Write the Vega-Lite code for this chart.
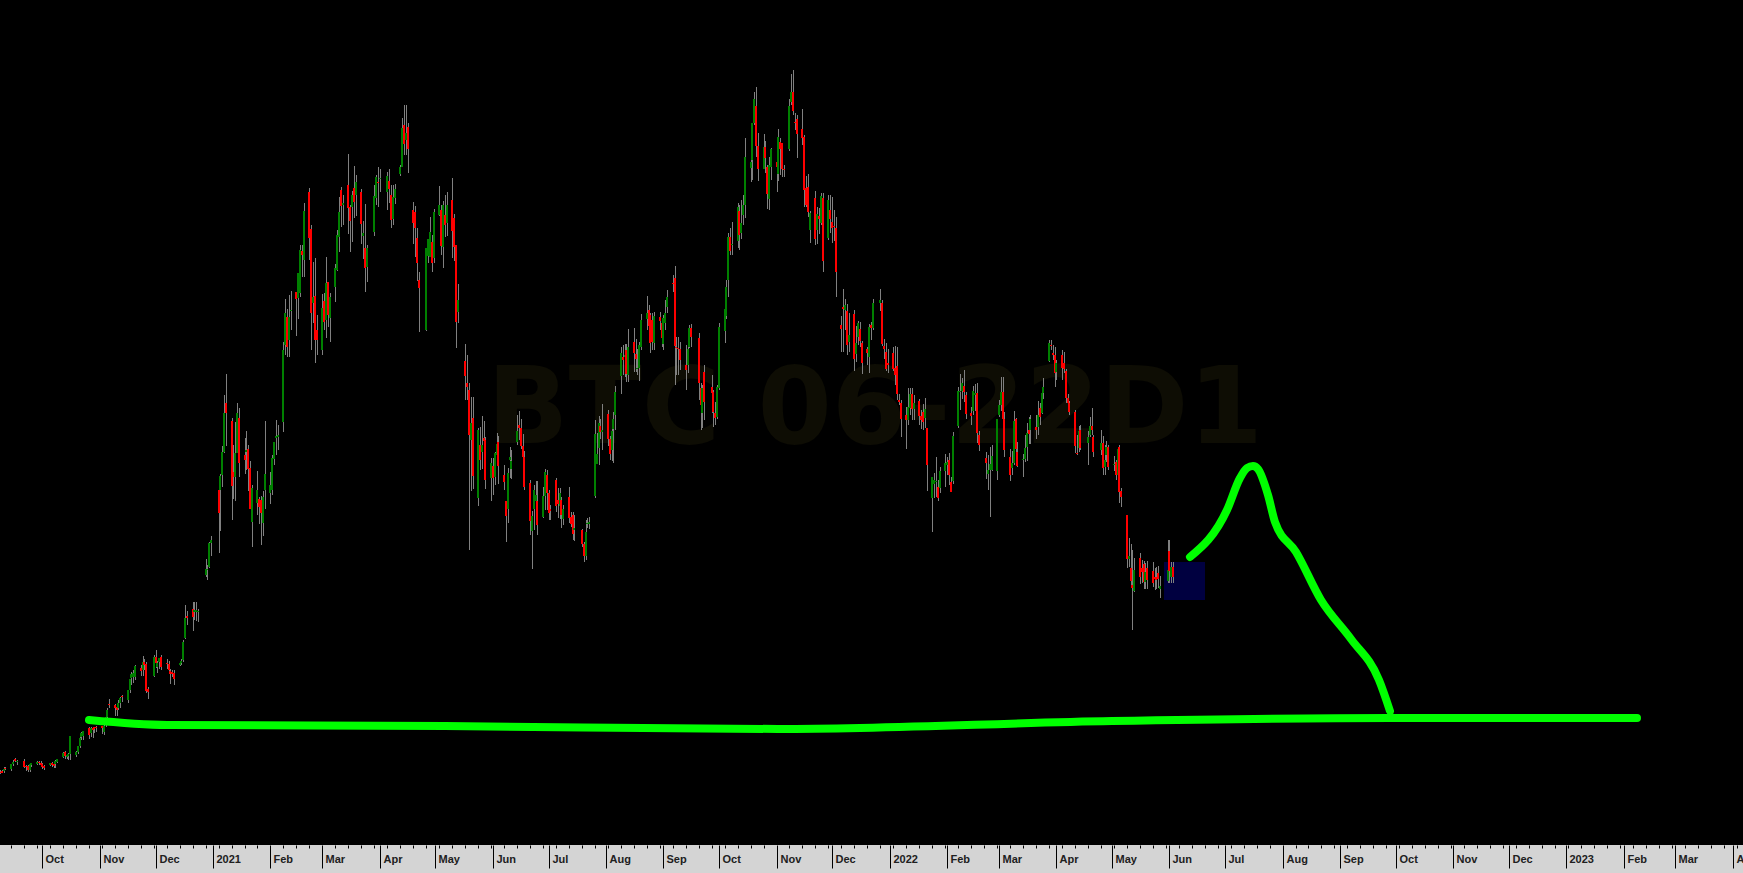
{"$schema":"https://vega.github.io/schema/vega-lite/v6.json","width":1743,"height":845,"autosize":"none","padding":{"left":0,"right":0,"top":0,"bottom":28},"background":"#d4d4d4","view":{"fill":"#000000","stroke":null},
"data":{"values":[
{"d":"2020-09-08","o":73,"c":72,"h":75,"l":71},{"d":"2020-09-09","o":74,"c":72,"h":75,"l":72},{"d":"2020-09-10","o":74,"c":76,"h":78,"l":72},{"d":"2020-09-11","o":77,"c":76,"h":78,"l":75},
{"d":"2020-09-14","o":76,"c":81,"h":81,"l":74},{"d":"2020-09-15","o":81,"c":83,"h":85,"l":79},{"d":"2020-09-16","o":86,"c":84,"h":87,"l":83},{"d":"2020-09-17","o":83,"c":84,"h":85,"l":80},
{"d":"2020-09-21","o":84,"c":78,"h":86,"l":77},{"d":"2020-09-22","o":79,"c":78,"h":80,"l":74},{"d":"2020-09-23","o":79,"c":75,"h":80,"l":73},{"d":"2020-09-24","o":75,"c":81,"h":82,"l":73},{"d":"2020-09-25","o":80,"c":82,"h":82,"l":78},
{"d":"2020-09-28","o":81,"c":83,"h":84,"l":80},{"d":"2020-09-29","o":83,"c":82,"h":84,"l":80},{"d":"2020-09-30","o":82,"c":80,"h":84,"l":78},{"d":"2020-10-01","o":81,"c":78,"h":82,"l":76},{"d":"2020-10-02","o":79,"c":77,"h":80,"l":75},
{"d":"2020-10-05","o":80,"c":82,"h":82,"l":79},{"d":"2020-10-06","o":82,"c":80,"h":83,"l":78},{"d":"2020-10-07","o":81,"c":79,"h":82,"l":77},{"d":"2020-10-08","o":81,"c":84,"h":85,"l":77},{"d":"2020-10-09","o":83,"c":86,"h":86,"l":82},
{"d":"2020-10-12","o":88,"c":92,"h":93,"l":87},{"d":"2020-10-13","o":93,"c":89,"h":94,"l":86},{"d":"2020-10-14","o":88,"c":90,"h":91,"l":86},{"d":"2020-10-15","o":89,"c":91,"h":92,"l":85},{"d":"2020-10-16","o":91,"c":109,"h":109,"l":85},
{"d":"2020-10-19","o":90,"c":93,"h":94,"l":88},{"d":"2020-10-20","o":93,"c":99,"h":99,"l":91},{"d":"2020-10-21","o":99,"c":107,"h":112,"l":97},{"d":"2020-10-22","o":108,"c":112,"h":113,"l":105},{"d":"2020-10-23","o":109,"c":114,"h":114,"l":105},
{"d":"2020-10-26","o":117,"c":110,"h":118,"l":106},{"d":"2020-10-27","o":112,"c":117,"h":118,"l":108},{"d":"2020-10-28","o":117,"c":115,"h":118,"l":107},{"d":"2020-10-29","o":118,"c":116,"h":118,"l":112},{"d":"2020-10-30","o":118,"c":117,"h":119,"l":113},
{"d":"2020-11-02","o":119,"c":117,"h":119,"l":111},{"d":"2020-11-03","o":113,"c":119,"h":120,"l":110},{"d":"2020-11-04","o":122,"c":128,"h":128,"l":118},{"d":"2020-11-05","o":128,"c":135,"h":137,"l":127},{"d":"2020-11-06","o":141,"c":140,"h":146,"l":137},
{"d":"2020-11-09","o":140,"c":137,"h":141,"l":129},{"d":"2020-11-10","o":138,"c":135,"h":139,"l":129},{"d":"2020-11-11","o":137,"c":142,"h":145,"l":135},{"d":"2020-11-12","o":142,"c":147,"h":148,"l":137},{"d":"2020-11-13","o":149,"c":148,"h":150,"l":143},
{"d":"2020-11-16","o":145,"c":155,"h":155,"l":142},{"d":"2020-11-17","o":155,"c":166,"h":166,"l":152},{"d":"2020-11-18","o":167,"c":171,"h":173,"l":160},{"d":"2020-11-19","o":168,"c":172,"h":175,"l":162},{"d":"2020-11-20","o":168,"c":179,"h":180,"l":165},
{"d":"2020-11-23","o":177,"c":174,"h":180,"l":169},{"d":"2020-11-24","o":175,"c":183,"h":189,"l":169},{"d":"2020-11-25","o":183,"c":180,"h":186,"l":175},{"d":"2020-11-26","o":181,"c":154,"h":183,"l":152},{"d":"2020-11-27","o":156,"c":153,"h":158,"l":146},
{"d":"2020-11-30","o":169,"c":188,"h":190,"l":168},{"d":"2020-12-01","o":188,"c":182,"h":195,"l":177},{"d":"2020-12-02","o":178,"c":182,"h":184,"l":172},{"d":"2020-12-03","o":183,"c":187,"h":187,"l":176},{"d":"2020-12-04","o":188,"c":178,"h":190,"l":175},
{"d":"2020-12-07","o":182,"c":181,"h":186,"l":176},{"d":"2020-12-08","o":181,"c":175,"h":184,"l":172},{"d":"2020-12-09","o":174,"c":171,"h":176,"l":161},{"d":"2020-12-10","o":173,"c":171,"h":175,"l":168},{"d":"2020-12-11","o":172,"c":166,"h":175,"l":160},
{"d":"2020-12-14","o":180,"c":182,"h":182,"l":179},{"d":"2020-12-15","o":182,"c":184,"h":186,"l":180},{"d":"2020-12-16","o":185,"c":203,"h":205,"l":183},{"d":"2020-12-17","o":207,"c":227,"h":240,"l":206},{"d":"2020-12-18","o":229,"c":227,"h":234,"l":220},
{"d":"2020-12-21","o":236,"c":228,"h":243,"l":214},{"d":"2020-12-22","o":233,"c":235,"h":243,"l":225},{"d":"2020-12-23","o":233,"c":235,"h":243,"l":224},{"d":"2020-12-24","o":233,"c":234,"h":236,"l":223},
{"d":"2020-12-28","o":270,"c":276,"h":286,"l":268},{"d":"2020-12-29","o":275,"c":276,"h":280,"l":265},{"d":"2020-12-30","o":278,"c":302,"h":303,"l":277},{"d":"2020-12-31","o":302,"c":305,"h":309,"l":289},
{"d":"2021-01-04","o":355,"c":332,"h":363,"l":292},{"d":"2021-01-05","o":355,"c":369,"h":371,"l":314},{"d":"2021-01-06","o":370,"c":393,"h":399,"l":358},{"d":"2021-01-07","o":393,"c":432,"h":450,"l":392},{"d":"2021-01-08","o":442,"c":432,"h":471,"l":399},
{"d":"2021-01-11","o":424,"c":359,"h":427,"l":325},{"d":"2021-01-12","o":373,"c":368,"h":400,"l":346},{"d":"2021-01-13","o":368,"c":392,"h":423,"l":344},{"d":"2021-01-14","o":392,"c":432,"h":442,"l":398},{"d":"2021-01-15","o":427,"c":382,"h":437,"l":368},
{"d":"2021-01-18","o":390,"c":385,"h":407,"l":371},{"d":"2021-01-19","o":393,"c":395,"h":414,"l":375},{"d":"2021-01-20","o":396,"c":376,"h":400,"l":354},{"d":"2021-01-21","o":377,"c":336,"h":384,"l":354},{"d":"2021-01-22","o":323,"c":357,"h":360,"l":298},
{"d":"2021-01-25","o":342,"c":355,"h":374,"l":330},{"d":"2021-01-26","o":346,"c":338,"h":348,"l":321},{"d":"2021-01-27","o":345,"c":332,"h":349,"l":300},{"d":"2021-01-28","o":322,"c":348,"h":354,"l":309},{"d":"2021-01-29","o":355,"c":371,"h":424,"l":336},
{"d":"2021-02-01","o":352,"c":360,"h":373,"l":341},{"d":"2021-02-02","o":355,"c":387,"h":390,"l":350},{"d":"2021-02-03","o":386,"c":403,"h":403,"l":380},{"d":"2021-02-04","o":407,"c":409,"h":425,"l":390},{"d":"2021-02-05","o":408,"c":410,"h":420,"l":395},
{"d":"2021-02-08","o":423,"c":495,"h":503,"l":413},{"d":"2021-02-09","o":500,"c":532,"h":546,"l":490},{"d":"2021-02-10","o":528,"c":498,"h":536,"l":488},{"d":"2021-02-11","o":505,"c":528,"h":550,"l":488},{"d":"2021-02-12","o":534,"c":535,"h":554,"l":515},
{"d":"2021-02-15","o":553,"c":546,"h":553,"l":509},{"d":"2021-02-16","o":547,"c":572,"h":572,"l":526},{"d":"2021-02-17","o":552,"c":595,"h":600,"l":548},{"d":"2021-02-18","o":594,"c":590,"h":600,"l":568},{"d":"2021-02-19","o":585,"c":634,"h":642,"l":568},
{"d":"2021-02-22","o":653,"c":607,"h":657,"l":585},{"d":"2021-02-23","o":616,"c":532,"h":620,"l":495},{"d":"2021-02-24","o":542,"c":548,"h":583,"l":522},{"d":"2021-02-25","o":549,"c":505,"h":587,"l":482},{"d":"2021-02-26","o":515,"c":505,"h":530,"l":490},
{"d":"2021-03-01","o":495,"c":537,"h":551,"l":490},{"d":"2021-03-02","o":544,"c":523,"h":552,"l":515},{"d":"2021-03-03","o":525,"c":562,"h":588,"l":507},{"d":"2021-03-04","o":563,"c":530,"h":563,"l":518},{"d":"2021-03-05","o":527,"c":548,"h":552,"l":503},
{"d":"2021-03-08","o":558,"c":577,"h":581,"l":543},{"d":"2021-03-09","o":575,"c":610,"h":615,"l":574},{"d":"2021-03-10","o":608,"c":633,"h":648,"l":593},{"d":"2021-03-11","o":655,"c":639,"h":658,"l":618},{"d":"2021-03-12","o":640,"c":642,"h":650,"l":620},
{"d":"2021-03-15","o":660,"c":637,"h":691,"l":611},{"d":"2021-03-16","o":638,"c":624,"h":640,"l":593},{"d":"2021-03-17","o":638,"c":650,"h":654,"l":603},{"d":"2021-03-18","o":657,"c":643,"h":679,"l":627},{"d":"2021-03-19","o":650,"c":663,"h":670,"l":629},
{"d":"2021-03-22","o":653,"c":621,"h":656,"l":601},{"d":"2021-03-23","o":609,"c":612,"h":624,"l":586},{"d":"2021-03-24","o":597,"c":577,"h":641,"l":553},{"d":"2021-03-25","o":578,"c":597,"h":600,"l":563},
{"d":"2021-03-29","o":613,"c":649,"h":660,"l":609},{"d":"2021-03-30","o":647,"c":668,"h":670,"l":640},{"d":"2021-03-31","o":663,"c":662,"h":678,"l":638},{"d":"2021-04-01","o":666,"c":667,"h":676,"l":653},
{"d":"2021-04-05","o":653,"c":669,"h":673,"l":635},{"d":"2021-04-06","o":664,"c":656,"h":676,"l":642},{"d":"2021-04-07","o":650,"c":625,"h":660,"l":617},{"d":"2021-04-08","o":626,"c":648,"h":660,"l":620},{"d":"2021-04-09","o":647,"c":656,"h":661,"l":641},
{"d":"2021-04-12","o":671,"c":678,"h":680,"l":669},{"d":"2021-04-13","o":678,"c":717,"h":727,"l":678},{"d":"2021-04-14","o":720,"c":701,"h":740,"l":690},{"d":"2021-04-15","o":705,"c":712,"h":740,"l":690},{"d":"2021-04-16","o":718,"c":696,"h":722,"l":672},
{"d":"2021-04-19","o":635,"c":622,"h":643,"l":601},{"d":"2021-04-20","o":633,"c":617,"h":639,"l":588},{"d":"2021-04-21","o":607,"c":582,"h":617,"l":564},{"d":"2021-04-22","o":565,"c":557,"h":573,"l":513},
{"d":"2021-04-26","o":515,"c":597,"h":597,"l":514},{"d":"2021-04-27","o":589,"c":606,"h":606,"l":582},{"d":"2021-04-28","o":588,"c":613,"h":628,"l":588},{"d":"2021-04-29","o":603,"c":582,"h":610,"l":573},{"d":"2021-04-30","o":587,"c":633,"h":636,"l":582},
{"d":"2021-05-03","o":630,"c":640,"h":659,"l":629},{"d":"2021-05-04","o":635,"c":599,"h":640,"l":590},{"d":"2021-05-05","o":598,"c":640,"h":644,"l":577},{"d":"2021-05-06","o":630,"c":620,"h":650,"l":608},{"d":"2021-05-07","o":622,"c":640,"h":653,"l":609},
{"d":"2021-05-10","o":645,"c":614,"h":667,"l":587},{"d":"2021-05-11","o":627,"c":598,"h":631,"l":584},{"d":"2021-05-12","o":600,"c":523,"h":600,"l":497},{"d":"2021-05-13","o":533,"c":545,"h":561,"l":522},
{"d":"2021-05-17","o":484,"c":469,"h":501,"l":445},{"d":"2021-05-18","o":462,"c":458,"h":490,"l":445},{"d":"2021-05-19","o":455,"c":410,"h":462,"l":295},{"d":"2021-05-20","o":405,"c":422,"h":448,"l":354},{"d":"2021-05-21","o":427,"c":369,"h":448,"l":356},
{"d":"2021-05-24","o":347,"c":415,"h":417,"l":339},{"d":"2021-05-25","o":400,"c":385,"h":418,"l":375},{"d":"2021-05-26","o":393,"c":400,"h":429,"l":376},{"d":"2021-05-27","o":407,"c":404,"h":424,"l":398},{"d":"2021-05-28","o":405,"c":365,"h":408,"l":356},
{"d":"2021-05-31","o":367,"c":382,"h":387,"l":344},{"d":"2021-06-01","o":379,"c":367,"h":387,"l":350},{"d":"2021-06-02","o":368,"c":392,"h":393,"l":360},{"d":"2021-06-03","o":390,"c":401,"h":412,"l":383},{"d":"2021-06-04","o":403,"c":379,"h":409,"l":361},
{"d":"2021-06-07","o":370,"c":363,"h":380,"l":355},{"d":"2021-06-08","o":344,"c":329,"h":344,"l":303},{"d":"2021-06-09","o":336,"c":372,"h":377,"l":322},{"d":"2021-06-10","o":385,"c":388,"h":398,"l":367},{"d":"2021-06-11","o":376,"c":384,"h":395,"l":366},
{"d":"2021-06-14","o":403,"c":414,"h":430,"l":400},{"d":"2021-06-15","o":420,"c":417,"h":434,"l":405},{"d":"2021-06-16","o":417,"c":399,"h":426,"l":396},{"d":"2021-06-17","o":399,"c":388,"h":411,"l":385},{"d":"2021-06-18","o":388,"c":358,"h":394,"l":355},
{"d":"2021-06-21","o":362,"c":324,"h":365,"l":310},{"d":"2021-06-22","o":314,"c":329,"h":334,"l":276},{"d":"2021-06-23","o":336,"c":355,"h":360,"l":315},{"d":"2021-06-24","o":344,"c":350,"h":364,"l":320},{"d":"2021-06-25","o":344,"c":320,"h":364,"l":310},
{"d":"2021-06-28","o":328,"c":349,"h":358,"l":327},{"d":"2021-06-29","o":349,"c":373,"h":376,"l":335},{"d":"2021-06-30","o":370,"c":352,"h":375,"l":335},{"d":"2021-07-01","o":352,"c":332,"h":355,"l":325},{"d":"2021-07-02","o":336,"c":334,"h":340,"l":325},
{"d":"2021-07-05","o":365,"c":339,"h":367,"l":333},{"d":"2021-07-06","o":345,"c":341,"h":357,"l":327},{"d":"2021-07-07","o":339,"c":352,"h":357,"l":326},{"d":"2021-07-08","o":345,"c":330,"h":348,"l":317},{"d":"2021-07-09","o":326,"c":336,"h":340,"l":320},
{"d":"2021-07-12","o":348,"c":327,"h":358,"l":322},{"d":"2021-07-13","o":328,"c":321,"h":333,"l":318},{"d":"2021-07-14","o":330,"c":311,"h":333,"l":305},{"d":"2021-07-15","o":315,"c":317,"h":330,"l":304},
{"d":"2021-07-19","o":315,"c":301,"h":316,"l":298},{"d":"2021-07-20","o":301,"c":289,"h":303,"l":283},{"d":"2021-07-21","o":289,"c":313,"h":325,"l":285},{"d":"2021-07-22","o":321,"c":322,"h":327,"l":317},{"d":"2021-07-23","o":321,"c":323,"h":328,"l":316},
{"d":"2021-07-26","o":349,"c":411,"h":425,"l":347},{"d":"2021-07-27","o":381,"c":391,"h":412,"l":381},{"d":"2021-07-28","o":397,"c":422,"h":429,"l":380},{"d":"2021-07-29","o":419,"c":413,"h":426,"l":406},{"d":"2021-07-30","o":413,"c":415,"h":441,"l":395},
{"d":"2021-08-02","o":431,"c":406,"h":435,"l":399},{"d":"2021-08-03","o":406,"c":391,"h":409,"l":385},{"d":"2021-08-04","o":395,"c":414,"h":417,"l":384},{"d":"2021-08-05","o":416,"c":426,"h":433,"l":382},{"d":"2021-08-06","o":430,"c":453,"h":459,"l":415},
{"d":"2021-08-09","o":469,"c":492,"h":498,"l":451},{"d":"2021-08-10","o":488,"c":485,"h":500,"l":470},{"d":"2021-08-11","o":488,"c":490,"h":501,"l":468},{"d":"2021-08-12","o":495,"c":471,"h":501,"l":463},{"d":"2021-08-13","o":470,"c":498,"h":516,"l":463},
{"d":"2021-08-16","o":503,"c":492,"h":517,"l":473},{"d":"2021-08-17","o":491,"c":486,"h":506,"l":473},{"d":"2021-08-18","o":476,"c":477,"h":496,"l":470},{"d":"2021-08-19","o":477,"c":500,"h":503,"l":464},{"d":"2021-08-20","o":498,"c":525,"h":531,"l":495},
{"d":"2021-08-23","o":526,"c":532,"h":549,"l":515},{"d":"2021-08-24","o":535,"c":519,"h":540,"l":510},{"d":"2021-08-25","o":530,"c":502,"h":532,"l":492},{"d":"2021-08-26","o":525,"c":503,"h":532,"l":495},{"d":"2021-08-27","o":502,"c":529,"h":533,"l":495},
{"d":"2021-08-30","o":528,"c":524,"h":533,"l":515},{"d":"2021-08-31","o":522,"c":507,"h":525,"l":498},{"d":"2021-09-01","o":501,"c":527,"h":530,"l":495},{"d":"2021-09-02","o":522,"c":532,"h":545,"l":515},{"d":"2021-09-03","o":538,"c":548,"h":555,"l":532},
{"d":"2021-09-06","o":562,"c":561,"h":570,"l":553},{"d":"2021-09-07","o":567,"c":499,"h":579,"l":460},{"d":"2021-09-08","o":498,"c":497,"h":508,"l":470},{"d":"2021-09-09","o":497,"c":496,"h":508,"l":470},{"d":"2021-09-10","o":496,"c":485,"h":503,"l":475},
{"d":"2021-09-13","o":480,"c":475,"h":500,"l":455},{"d":"2021-09-14","o":480,"c":496,"h":500,"l":472},{"d":"2021-09-15","o":498,"c":517,"h":520,"l":497},{"d":"2021-09-16","o":517,"c":508,"h":521,"l":498},
{"d":"2021-09-20","o":507,"c":462,"h":512,"l":445},{"d":"2021-09-21","o":457,"c":440,"h":462,"l":415},{"d":"2021-09-22","o":432,"c":457,"h":460,"l":417},{"d":"2021-09-23","o":473,"c":443,"h":480,"l":425},
{"d":"2021-09-27","o":458,"c":452,"h":470,"l":432},{"d":"2021-09-28","o":453,"c":433,"h":455,"l":418},{"d":"2021-09-29","o":432,"c":427,"h":443,"l":420},{"d":"2021-09-30","o":428,"c":458,"h":460,"l":426},{"d":"2021-10-01","o":457,"c":518,"h":522,"l":455},
{"d":"2021-10-04","o":514,"c":536,"h":540,"l":502},{"d":"2021-10-05","o":529,"c":558,"h":565,"l":526},{"d":"2021-10-06","o":565,"c":608,"h":612,"l":548},{"d":"2021-10-07","o":608,"c":594,"h":617,"l":590},{"d":"2021-10-08","o":600,"c":601,"h":623,"l":590},
{"d":"2021-10-11","o":604,"c":638,"h":642,"l":597},{"d":"2021-10-12","o":634,"c":610,"h":640,"l":595},{"d":"2021-10-13","o":612,"c":622,"h":645,"l":606},{"d":"2021-10-14","o":630,"c":640,"h":650,"l":620},{"d":"2021-10-15","o":640,"c":688,"h":707,"l":627},
{"d":"2021-10-18","o":677,"c":683,"h":703,"l":663},{"d":"2021-10-19","o":685,"c":722,"h":722,"l":665},{"d":"2021-10-20","o":722,"c":746,"h":753,"l":720},{"d":"2021-10-21","o":739,"c":699,"h":758,"l":688},{"d":"2021-10-22","o":699,"c":676,"h":712,"l":664},
{"d":"2021-10-25","o":676,"c":698,"h":711,"l":676},{"d":"2021-10-26","o":698,"c":687,"h":704,"l":672},{"d":"2021-10-27","o":678,"c":651,"h":680,"l":636},{"d":"2021-10-28","o":646,"c":680,"h":688,"l":635},{"d":"2021-10-29","o":678,"c":696,"h":697,"l":665},
{"d":"2021-11-01","o":683,"c":678,"h":700,"l":653},{"d":"2021-11-02","o":671,"c":708,"h":716,"l":664},{"d":"2021-11-03","o":703,"c":696,"h":707,"l":670},{"d":"2021-11-04","o":702,"c":676,"h":702,"l":668},{"d":"2021-11-05","o":676,"c":675,"h":680,"l":668},
{"d":"2021-11-08","o":696,"c":739,"h":746,"l":694},{"d":"2021-11-09","o":743,"c":753,"h":771,"l":740},{"d":"2021-11-10","o":753,"c":734,"h":775,"l":730},{"d":"2021-11-11","o":723,"c":722,"h":732,"l":715},{"d":"2021-11-12","o":726,"c":711,"h":730,"l":687},
{"d":"2021-11-15","o":716,"c":707,"h":736,"l":700},{"d":"2021-11-16","o":708,"c":655,"h":710,"l":638},{"d":"2021-11-17","o":657,"c":640,"h":669,"l":638},{"d":"2021-11-18","o":658,"c":633,"h":671,"l":628},{"d":"2021-11-19","o":615,"c":632,"h":634,"l":602},
{"d":"2021-11-22","o":647,"c":606,"h":654,"l":600},{"d":"2021-11-23","o":615,"c":631,"h":638,"l":601},{"d":"2021-11-24","o":629,"c":626,"h":637,"l":611},{"d":"2021-11-25","o":622,"c":649,"h":652,"l":620},{"d":"2021-11-26","o":647,"c":584,"h":652,"l":573},
{"d":"2021-11-29","o":607,"c":645,"h":650,"l":605},{"d":"2021-11-30","o":635,"c":626,"h":650,"l":612},{"d":"2021-12-01","o":623,"c":617,"h":648,"l":602},{"d":"2021-12-02","o":619,"c":618,"h":635,"l":604},{"d":"2021-12-03","o":617,"c":573,"h":628,"l":548},
{"d":"2021-12-06","o":520,"c":516,"h":529,"l":493},{"d":"2021-12-07","o":538,"c":536,"h":556,"l":493},{"d":"2021-12-08","o":535,"c":540,"h":546,"l":515},{"d":"2021-12-09","o":534,"c":500,"h":541,"l":490},{"d":"2021-12-10","o":503,"c":510,"h":532,"l":493},
{"d":"2021-12-13","o":531,"c":486,"h":535,"l":474},{"d":"2021-12-14","o":491,"c":502,"h":519,"l":483},{"d":"2021-12-15","o":508,"c":522,"h":524,"l":500},{"d":"2021-12-16","o":516,"c":504,"h":523,"l":498},{"d":"2021-12-17","o":502,"c":482,"h":504,"l":471},
{"d":"2021-12-20","o":496,"c":492,"h":498,"l":480},{"d":"2021-12-21","o":488,"c":518,"h":521,"l":472},{"d":"2021-12-22","o":520,"c":517,"h":523,"l":505},{"d":"2021-12-23","o":517,"c":542,"h":546,"l":515},
{"d":"2021-12-27","o":542,"c":545,"h":556,"l":534},{"d":"2021-12-28","o":542,"c":501,"h":545,"l":499},{"d":"2021-12-29","o":499,"c":496,"h":506,"l":486},{"d":"2021-12-30","o":493,"c":476,"h":502,"l":474},{"d":"2021-12-31","o":482,"c":480,"h":496,"l":472},
{"d":"2022-01-03","o":492,"c":476,"h":498,"l":474},{"d":"2022-01-04","o":477,"c":470,"h":499,"l":460},{"d":"2022-01-05","o":479,"c":451,"h":498,"l":445},{"d":"2022-01-06","o":445,"c":443,"h":451,"l":440},{"d":"2022-01-07","o":442,"c":426,"h":445,"l":408},
{"d":"2022-01-10","o":430,"c":425,"h":438,"l":396},{"d":"2022-01-11","o":425,"c":438,"h":457,"l":420},{"d":"2022-01-12","o":437,"c":451,"h":457,"l":430},{"d":"2022-01-13","o":451,"c":436,"h":457,"l":425},{"d":"2022-01-14","o":436,"c":442,"h":450,"l":425},
{"d":"2022-01-17","o":444,"c":429,"h":446,"l":420},{"d":"2022-01-18","o":429,"c":425,"h":435,"l":416},{"d":"2022-01-19","o":433,"c":423,"h":441,"l":415},{"d":"2022-01-20","o":427,"c":436,"h":447,"l":417},{"d":"2022-01-21","o":417,"c":380,"h":417,"l":354},
{"d":"2022-01-24","o":347,"c":368,"h":368,"l":313},{"d":"2022-01-25","o":361,"c":365,"h":372,"l":347},{"d":"2022-01-26","o":363,"c":364,"h":388,"l":348},{"d":"2022-01-27","o":358,"c":347,"h":365,"l":344},{"d":"2022-01-28","o":357,"c":374,"h":378,"l":352},
{"d":"2022-01-31","o":374,"c":382,"h":391,"l":358},{"d":"2022-02-01","o":380,"c":383,"h":388,"l":370},{"d":"2022-02-02","o":385,"c":370,"h":392,"l":360},{"d":"2022-02-03","o":363,"c":353,"h":368,"l":353},{"d":"2022-02-04","o":364,"c":409,"h":413,"l":361},
{"d":"2022-02-07","o":419,"c":454,"h":458,"l":417},{"d":"2022-02-08","o":453,"c":454,"h":471,"l":435},{"d":"2022-02-09","o":454,"c":462,"h":467,"l":446},{"d":"2022-02-10","o":459,"c":453,"h":475,"l":443},{"d":"2022-02-11","o":450,"c":431,"h":453,"l":426},
{"d":"2022-02-14","o":432,"c":429,"h":438,"l":420},{"d":"2022-02-15","o":434,"c":454,"h":459,"l":430},{"d":"2022-02-16","o":450,"c":452,"h":461,"l":434},{"d":"2022-02-17","o":452,"c":412,"h":462,"l":402},{"d":"2022-02-18","o":410,"c":400,"h":414,"l":394},
{"d":"2022-02-22","o":387,"c":382,"h":393,"l":366},{"d":"2022-02-23","o":371,"c":375,"h":390,"l":355},{"d":"2022-02-24","o":375,"c":381,"h":398,"l":328},{"d":"2022-02-25","o":375,"c":389,"h":400,"l":374},
{"d":"2022-02-28","o":374,"c":426,"h":426,"l":365},{"d":"2022-03-01","o":430,"c":440,"h":445,"l":428},{"d":"2022-03-02","o":440,"c":453,"h":468,"l":434},{"d":"2022-03-03","o":453,"c":426,"h":468,"l":420},{"d":"2022-03-04","o":426,"c":395,"h":433,"l":388},
{"d":"2022-03-07","o":388,"c":370,"h":396,"l":364},{"d":"2022-03-08","o":377,"c":382,"h":394,"l":370},{"d":"2022-03-09","o":382,"c":424,"h":434,"l":380},{"d":"2022-03-10","o":426,"c":396,"h":427,"l":390},{"d":"2022-03-11","o":393,"c":379,"h":403,"l":378},
{"d":"2022-03-14","o":385,"c":386,"h":391,"l":368},{"d":"2022-03-15","o":386,"c":397,"h":410,"l":383},{"d":"2022-03-16","o":398,"c":412,"h":422,"l":384},{"d":"2022-03-17","o":415,"c":411,"h":428,"l":401},{"d":"2022-03-18","o":415,"c":426,"h":430,"l":401},
{"d":"2022-03-21","o":418,"c":415,"h":430,"l":406},{"d":"2022-03-22","o":418,"c":430,"h":444,"l":410},{"d":"2022-03-23","o":437,"c":428,"h":442,"l":420},{"d":"2022-03-24","o":432,"c":452,"h":458,"l":431},{"d":"2022-03-25","o":452,"c":458,"h":467,"l":446},
{"d":"2022-03-28","o":484,"c":502,"h":505,"l":483},{"d":"2022-03-29","o":500,"c":499,"h":505,"l":495},{"d":"2022-03-30","o":492,"c":490,"h":500,"l":485},{"d":"2022-03-31","o":490,"c":472,"h":498,"l":458},{"d":"2022-04-01","o":473,"c":482,"h":485,"l":465},
{"d":"2022-04-04","o":490,"c":477,"h":495,"l":465},{"d":"2022-04-05","o":482,"c":476,"h":493,"l":472},{"d":"2022-04-06","o":474,"c":447,"h":476,"l":442},{"d":"2022-04-07","o":447,"c":442,"h":451,"l":436},{"d":"2022-04-08","o":442,"c":433,"h":444,"l":430},
{"d":"2022-04-11","o":433,"c":399,"h":435,"l":392},{"d":"2022-04-12","o":392,"c":391,"h":410,"l":390},{"d":"2022-04-13","o":397,"c":414,"h":419,"l":393},{"d":"2022-04-14","o":415,"c":397,"h":420,"l":395},
{"d":"2022-04-18","o":402,"c":408,"h":414,"l":380},{"d":"2022-04-19","o":410,"c":419,"h":428,"l":408},{"d":"2022-04-20","o":419,"c":415,"h":437,"l":410},{"d":"2022-04-21","o":408,"c":393,"h":410,"l":388},
{"d":"2022-04-25","o":395,"c":402,"h":415,"l":390},{"d":"2022-04-26","o":402,"c":377,"h":409,"l":370},{"d":"2022-04-27","o":378,"c":385,"h":400,"l":370},{"d":"2022-04-28","o":390,"c":398,"h":404,"l":383},{"d":"2022-04-29","o":398,"c":378,"h":400,"l":375},
{"d":"2022-05-02","o":380,"c":381,"h":389,"l":374},{"d":"2022-05-03","o":383,"c":370,"h":385,"l":365},{"d":"2022-05-04","o":370,"c":396,"h":398,"l":368},{"d":"2022-05-05","o":398,"c":353,"h":400,"l":342},{"d":"2022-05-06","o":354,"c":348,"h":357,"l":338},
{"d":"2022-05-09","o":330,"c":286,"h":330,"l":277},{"d":"2022-05-10","o":286,"c":289,"h":307,"l":278},{"d":"2022-05-11","o":277,"c":264,"h":301,"l":260},{"d":"2022-05-12","o":260,"c":257,"h":295,"l":215},{"d":"2022-05-13","o":254,"c":275,"h":287,"l":253},
{"d":"2022-05-16","o":287,"c":268,"h":292,"l":261},{"d":"2022-05-17","o":277,"c":273,"h":285,"l":262},{"d":"2022-05-18","o":281,"c":263,"h":284,"l":256},{"d":"2022-05-19","o":263,"c":273,"h":282,"l":256},{"d":"2022-05-20","o":277,"c":265,"h":284,"l":256},
{"d":"2022-05-23","o":274,"c":262,"h":283,"l":258},{"d":"2022-05-24","o":268,"c":266,"h":277,"l":255},{"d":"2022-05-25","o":268,"c":265,"h":278,"l":256},{"d":"2022-05-26","o":272,"c":266,"h":279,"l":257},{"d":"2022-05-27","o":256,"c":259,"h":269,"l":247},
{"d":"2022-05-31","o":264,"c":275,"h":305,"l":262},{"d":"2022-06-01","o":294,"c":274,"h":305,"l":262},{"d":"2022-06-02","o":268,"c":278,"h":283,"l":262},{"d":"2022-06-03","o":278,"c":268,"h":283,"l":262}
]},
"encoding":{"x":{"field":"d","type":"temporal","title":null,"scale":{"type":"utc","domain":["2020-09-08T02:00:00Z","2023-04-06T10:00:00Z"],"nice":false,"round":true,"padding":0},
"axis":{"orient":"bottom","grid":false,"domain":false,"values":{"expr":"utcSequence('day',utc(2020,8,1),utc(2023,3,10))"},"tickColor":"#000000","tickWidth":1,"tickSize":{"condition":{"test":"utcdate(datum.value)==1","value":23},"value":3},"tickOpacity":{"condition":{"test":"utcdate(datum.value)==1||utcday(datum.value)==1","value":1},"value":0},"labelExpr":"utcdate(datum.value)==1?(utcmonth(datum.value)==0?''+utcyear(datum.value):utcFormat(datum.value,'%b')):''","labelAlign":"left","labelBaseline":"middle","labelOffset":3,"labelPadding":-9,"labelFont":"Liberation Sans","labelFontSize":11,"labelFontWeight":"bold","labelColor":"#202020","labelOverlap":false,"labelFlush":false,"labelBound":false,"title":null}}},
"layer":[
{"data":{"values":[{"d":"2021-12-24","v":434,"t":"BTC 06-22D1"}]},"mark":{"type":"text","font":"DejaVu Sans","fontWeight":"bold","fontSize":107,"color":"#0e0d04","baseline":"middle","align":"center"},"encoding":{"y":{"field":"v","type":"quantitative","axis":null,"scale":{"domain":[0,845],"nice":false,"zero":false,"round":true}},"text":{"field":"t"}}},
{"data":{"values":[{"d":"2022-05-29","d2":"2022-06-20","a":283,"b":245}]},"mark":{"type":"rect","color":"#000040"},"encoding":{"x2":{"field":"d2"},"y":{"field":"a","type":"quantitative"},"y2":{"field":"b"}}},
{"mark":{"type":"rule","color":"#808080","strokeWidth":1,"xOffset":0.5},"encoding":{"y":{"field":"h","type":"quantitative"},"y2":{"field":"l"}}},
{"mark":{"type":"bar","width":2},"encoding":{"y":{"field":"o","type":"quantitative"},"y2":{"field":"c"},"color":{"condition":{"test":"datum.c>=datum.o","value":"#008000"},"value":"#ff0000"}}},
{"data":{"values":[
{"s":"a","d":"2020-10-26","v":125},{"s":"a","d":"2020-12-07","v":120},{"s":"a","d":"2021-05-06","v":119},{"s":"a","d":"2021-11-02","v":116},{"s":"a","d":"2022-05-01","v":124},{"s":"a","d":"2022-09-28","v":127},{"s":"a","d":"2023-02-08","v":127},
{"s":"b","d":"2022-06-12","v":288},{"s":"b","d":"2022-07-02","v":335},{"s":"b","d":"2022-07-09","v":367},{"s":"b","d":"2022-07-13","v":377},{"s":"b","d":"2022-07-16","v":379},{"s":"b","d":"2022-07-19","v":376},{"s":"b","d":"2022-07-24","v":350},{"s":"b","d":"2022-07-28","v":323},{"s":"b","d":"2022-08-08","v":293},{"s":"b","d":"2022-08-22","v":245},{"s":"b","d":"2022-09-07","v":206},{"s":"b","d":"2022-09-22","v":165},{"s":"b","d":"2022-09-28","v":134}
]},"mark":{"type":"line","color":"#00ff00","strokeWidth":8,"strokeCap":"round","strokeJoin":"round","interpolate":"monotone"},"encoding":{"y":{"field":"v","type":"quantitative"},"detail":{"field":"s"}}}
]}
